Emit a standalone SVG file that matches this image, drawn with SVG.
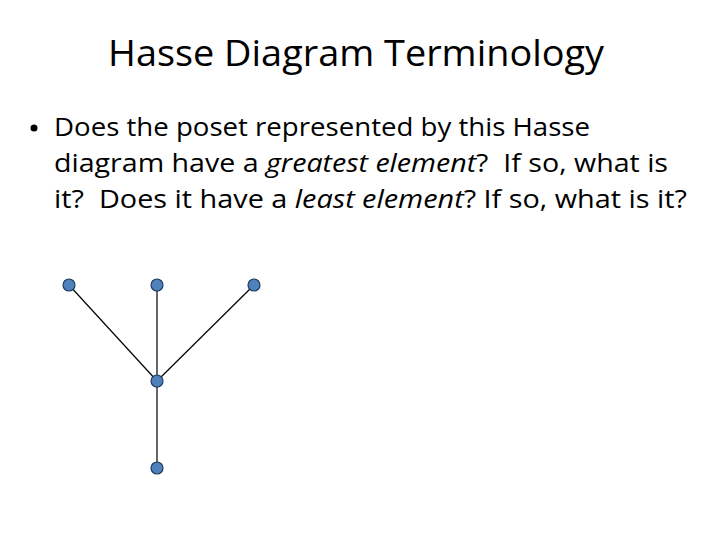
<svg xmlns="http://www.w3.org/2000/svg" width="720" height="540" viewBox="0 0 720 540">
<style>
.t{font-family:"Open Sans","Liberation Sans",sans-serif;fill:#000}
.b{font-size:25px}
.e line{stroke:#000;stroke-width:1.2}
.n circle{fill:#4f81bd;stroke:#1f3a5f;stroke-width:1.2}
</style>
<rect width="720" height="540" fill="#fff"/>
<text class="t" x="356" y="66" font-size="37" text-anchor="middle" textLength="496" lengthAdjust="spacingAndGlyphs">Hasse Diagram Terminology</text>
<circle cx="34" cy="128" r="3.5" fill="#000"/>
<text class="t b" x="54" y="136" textLength="536" lengthAdjust="spacingAndGlyphs">Does the poset represented by this Hasse</text>
<text class="t b" x="54" y="172" textLength="614" lengthAdjust="spacingAndGlyphs">diagram have a <tspan font-style="italic">greatest element</tspan>?&#160; If so, what is</text>
<text class="t b" x="54" y="208" textLength="633" lengthAdjust="spacingAndGlyphs">it?&#160; Does it have a <tspan font-style="italic">least element</tspan>? If so, what is it?</text>
<g id="edges" class="e">
<line x1="69" y1="285" x2="157" y2="381"/>
<line x1="157" y1="285" x2="157" y2="381"/>
<line x1="254" y1="285" x2="157" y2="381"/>
<line x1="157" y1="381" x2="157" y2="468"/>
</g>
<g id="n1" class="n"><circle cx="69" cy="285" r="6"/></g>
<g id="n2" class="n"><circle cx="157" cy="285" r="6"/></g>
<g id="n3" class="n"><circle cx="254" cy="285" r="6"/></g>
<g id="n4" class="n"><circle cx="157" cy="381" r="6"/></g>
<g id="n5" class="n"><circle cx="157" cy="468" r="6"/></g>
</svg>
